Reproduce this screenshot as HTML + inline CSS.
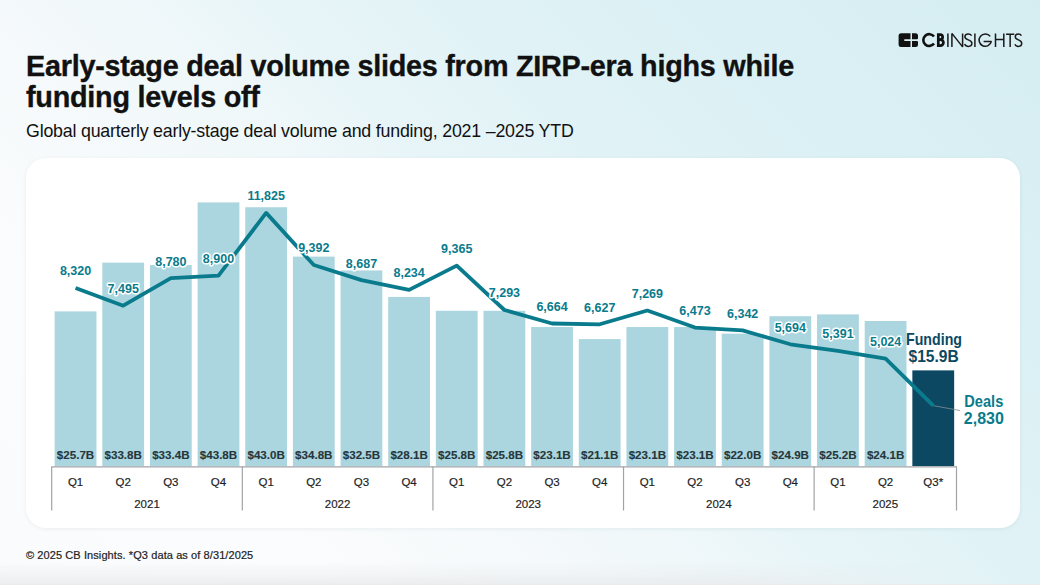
<!DOCTYPE html>
<html><head><meta charset="utf-8">
<style>
html,body{margin:0;padding:0;}
body{width:1040px;height:585px;overflow:hidden;position:relative;font-family:"Liberation Sans",sans-serif;
background:linear-gradient(45deg,#fafbfc 0%,#fbfcfd 20%,#f4f9fb 36%,#eef7f9 46%,#e8f5f8 52%,#e0f2f6 65%,#daf0f4 82%,#d5ecf1 100%);}
.bot{position:absolute;left:0;top:562px;width:1040px;height:23px;background:linear-gradient(180deg,rgba(232,234,236,0) 0%,rgba(232,234,236,0.35) 50%,rgba(232,234,236,0.85) 100%);-webkit-mask-image:linear-gradient(90deg,#000 0%,#000 70%,transparent 93%);}
.bline{position:absolute;left:0;top:584px;width:1040px;height:1px;background:#ebeced;}
.card{position:absolute;left:26px;top:158px;width:994px;height:369.5px;background:#fff;border-radius:20px;box-shadow:0 1px 4px rgba(0,50,70,0.07);}
h1{position:absolute;left:26px;top:50.5px;margin:0;font-size:28.8px;line-height:31.8px;letter-spacing:-0.26px;-webkit-text-stroke:0.35px #111;font-weight:700;color:#111;white-space:nowrap;}
.sub{position:absolute;left:26px;top:120.8px;margin:0;font-size:17.8px;line-height:20px;letter-spacing:-0.2px;color:#111;white-space:nowrap;}
.foot{position:absolute;left:26px;top:548.7px;font-size:11px;letter-spacing:0.09px;-webkit-text-stroke:0.2px #222;line-height:13px;color:#222;white-space:nowrap;}
svg{position:absolute;left:0;top:0;}
.fl{font-size:11.6px;font-weight:700;fill:#27363b;text-anchor:middle;stroke:#27363b;stroke-width:0.12;}
.ql{font-size:11.5px;fill:#1e1e1e;stroke:#1e1e1e;stroke-width:0.18;text-anchor:middle;}
.ax{stroke:#a0a4a6;stroke-width:1.2;fill:none;}
.dl{font-size:12.5px;font-weight:700;fill:#0a7b8c;text-anchor:middle;paint-order:stroke;stroke:#fff;stroke-width:3;stroke-linejoin:round;}
.big{font-size:16.2px;font-weight:700;text-anchor:middle;}
</style></head><body>
<div class="bot"></div><div class="bline"></div>
<div class="card"></div>
<h1>Early-stage deal volume slides from ZIRP-era highs while<br>funding levels off</h1>
<div class="sub">Global quarterly early-stage deal volume and funding, 2021 –2025 YTD</div>
<div class="foot">© 2025 CB Insights. *Q3 data as of 8/31/2025</div>
<svg width="1040" height="585" viewBox="0 0 1040 585">
<g>
<path fill="#111" d="M901.1 33.15 H910.5 V39.3 H904.3 V40.9 H910.5 V47 H901.1 Q898.6 47 898.6 44.5 V35.65 Q898.6 33.15 901.1 33.15 Z M912 33.15 H915.5 Q918 33.15 918 35.65 V38.3 Q918 39.3 917 39.3 H912 Z M912 40.9 H917 Q918 40.9 918 41.9 V44.5 Q918 47 915.5 47 H912 Z"/>
<g fill="none" stroke="#111" stroke-width="2.6">
<path d="M934 36.6 A5.9 5.9 0 1 0 934 43.5"/>
<path stroke-width="2.7" d="M938.3 33.3 V47 M938.3 34.65 H940.2 A2.45 2.45 0 0 1 940.2 39.55 H938.3 M938.3 39.55 H940.4 A3.05 3.05 0 0 1 940.4 45.65 H938.3"/>
</g>
<g fill="none" stroke="#1a1a1a" stroke-width="1.5" stroke-linejoin="bevel">
<path d="M947.9 33.4 V46.9 M951.9 46.9 V33.4 L962.6 46.9 V33.4"/>
<path d="M971.6 35.6 C970.8 34.3 969.6 33.9 968.2 33.9 C966.2 33.9 964.9 35.1 964.9 36.8 C964.9 40.7 971.9 39.1 971.9 43.3 C971.9 45.2 970.3 46.4 968.2 46.4 C966.5 46.4 965.2 45.6 964.5 44.2"/>
<path d="M974.9 33.4 V46.9"/>
<path d="M990.25 36.4 A6.2 6.2 0 1 0 991.37 41.4 H983.6"/>
<path d="M995.5 33.4 V46.9 M1003.8 33.4 V46.9 M995.5 39.4 H1003.8"/>
<path d="M1006 34.2 H1014.3 M1010.15 34.2 V46.9"/>
<path d="M1021.4 35.6 C1020.7 34.3 1019.6 33.9 1018.3 33.9 C1016.4 33.9 1015.3 35.1 1015.3 36.8 C1015.3 40.7 1021.7 39.1 1021.7 43.3 C1021.7 45.2 1020.2 46.4 1018.3 46.4 C1016.7 46.4 1015.5 45.6 1014.9 44.2"/>
</g>
</g>
<rect x="54.65" y="311.39" width="41.8" height="154.71" fill="#abd6df"/>
<rect x="102.30" y="262.62" width="41.8" height="203.48" fill="#abd6df"/>
<rect x="149.95" y="265.03" width="41.8" height="201.07" fill="#abd6df"/>
<rect x="197.60" y="202.42" width="41.8" height="263.68" fill="#abd6df"/>
<rect x="245.25" y="207.24" width="41.8" height="258.86" fill="#abd6df"/>
<rect x="292.90" y="256.60" width="41.8" height="209.50" fill="#abd6df"/>
<rect x="340.55" y="270.45" width="41.8" height="195.65" fill="#abd6df"/>
<rect x="388.20" y="296.94" width="41.8" height="169.16" fill="#abd6df"/>
<rect x="435.85" y="310.78" width="41.8" height="155.32" fill="#abd6df"/>
<rect x="483.50" y="310.78" width="41.8" height="155.32" fill="#abd6df"/>
<rect x="531.15" y="327.04" width="41.8" height="139.06" fill="#abd6df"/>
<rect x="578.80" y="339.08" width="41.8" height="127.02" fill="#abd6df"/>
<rect x="626.45" y="327.04" width="41.8" height="139.06" fill="#abd6df"/>
<rect x="674.10" y="327.04" width="41.8" height="139.06" fill="#abd6df"/>
<rect x="721.75" y="333.66" width="41.8" height="132.44" fill="#abd6df"/>
<rect x="769.40" y="316.20" width="41.8" height="149.90" fill="#abd6df"/>
<rect x="817.05" y="314.40" width="41.8" height="151.70" fill="#abd6df"/>
<rect x="864.70" y="321.02" width="41.8" height="145.08" fill="#abd6df"/>
<rect x="912.35" y="370.38" width="41.8" height="95.72" fill="#0d4862"/>
<text x="75.55" y="459.3" class="fl">$25.7B</text>
<text x="123.20" y="459.3" class="fl">$33.8B</text>
<text x="170.85" y="459.3" class="fl">$33.4B</text>
<text x="218.50" y="459.3" class="fl">$43.8B</text>
<text x="266.15" y="459.3" class="fl">$43.0B</text>
<text x="313.80" y="459.3" class="fl">$34.8B</text>
<text x="361.45" y="459.3" class="fl">$32.5B</text>
<text x="409.10" y="459.3" class="fl">$28.1B</text>
<text x="456.75" y="459.3" class="fl">$25.8B</text>
<text x="504.40" y="459.3" class="fl">$25.8B</text>
<text x="552.05" y="459.3" class="fl">$23.1B</text>
<text x="599.70" y="459.3" class="fl">$21.1B</text>
<text x="647.35" y="459.3" class="fl">$23.1B</text>
<text x="695.00" y="459.3" class="fl">$23.1B</text>
<text x="742.65" y="459.3" class="fl">$22.0B</text>
<text x="790.30" y="459.3" class="fl">$24.9B</text>
<text x="837.95" y="459.3" class="fl">$25.2B</text>
<text x="885.60" y="459.3" class="fl">$24.1B</text>
<path d="M51.7 466.8 H956.5 M51.7 466.3 V510.5 M956.5 466.3 V510.5" class="ax"/>
<path d="M242.32 466.8 V510.5" class="ax"/>
<path d="M432.93 466.8 V510.5" class="ax"/>
<path d="M623.52 466.8 V510.5" class="ax"/>
<path d="M814.12 466.8 V510.5" class="ax"/>
<text x="75.55" y="485.6" class="ql">Q1</text>
<text x="123.20" y="485.6" class="ql">Q2</text>
<text x="170.85" y="485.6" class="ql">Q3</text>
<text x="218.50" y="485.6" class="ql">Q4</text>
<text x="266.15" y="485.6" class="ql">Q1</text>
<text x="313.80" y="485.6" class="ql">Q2</text>
<text x="361.45" y="485.6" class="ql">Q3</text>
<text x="409.10" y="485.6" class="ql">Q4</text>
<text x="456.75" y="485.6" class="ql">Q1</text>
<text x="504.40" y="485.6" class="ql">Q2</text>
<text x="552.05" y="485.6" class="ql">Q3</text>
<text x="599.70" y="485.6" class="ql">Q4</text>
<text x="647.35" y="485.6" class="ql">Q1</text>
<text x="695.00" y="485.6" class="ql">Q2</text>
<text x="742.65" y="485.6" class="ql">Q3</text>
<text x="790.30" y="485.6" class="ql">Q4</text>
<text x="837.95" y="485.6" class="ql">Q1</text>
<text x="885.60" y="485.6" class="ql">Q2</text>
<text x="933.25" y="485.6" class="ql">Q3*</text>
<text x="147.03" y="507.8" class="ql">2021</text>
<text x="337.62" y="507.8" class="ql">2022</text>
<text x="528.23" y="507.8" class="ql">2023</text>
<text x="718.83" y="507.8" class="ql">2024</text>
<text x="885.31" y="507.8" class="ql">2025</text>
<path d="M933.25 405.65 L960 410.5" stroke="#7f9096" stroke-width="0.8" fill="none"/>
<path d="M75.55 288.00 L123.20 305.68 L170.85 278.14 L218.50 275.57 L266.15 212.89 L313.80 265.03 L361.45 280.14 L409.10 289.85 L456.75 265.61 L504.40 310.01 L552.05 323.49 L599.70 324.28 L647.35 310.53 L695.00 327.58 L742.65 330.39 L790.30 344.28 L837.95 350.77 L885.60 358.64 L933.25 405.65" fill="none" stroke="#0a7b8c" stroke-width="3.8" stroke-linejoin="round"/>
<text x="75.55" y="275.40" class="dl">8,320</text>
<text x="123.20" y="293.08" class="dl">7,495</text>
<text x="170.85" y="265.54" class="dl">8,780</text>
<text x="218.50" y="262.97" class="dl">8,900</text>
<text x="266.15" y="200.29" class="dl">11,825</text>
<text x="313.80" y="252.43" class="dl">9,392</text>
<text x="361.45" y="267.54" class="dl">8,687</text>
<text x="409.10" y="277.25" class="dl">8,234</text>
<text x="456.75" y="253.01" class="dl">9,365</text>
<text x="504.40" y="297.41" class="dl">7,293</text>
<text x="552.05" y="310.89" class="dl">6,664</text>
<text x="599.70" y="311.68" class="dl">6,627</text>
<text x="647.35" y="297.93" class="dl">7,269</text>
<text x="695.00" y="314.98" class="dl">6,473</text>
<text x="742.65" y="317.79" class="dl">6,342</text>
<text x="790.30" y="331.68" class="dl">5,694</text>
<text x="837.95" y="338.17" class="dl">5,391</text>
<text x="885.60" y="346.04" class="dl">5,024</text>
<text x="934" y="344.9" class="big" fill="#0d4862" textLength="56" lengthAdjust="spacingAndGlyphs">Funding</text>
<text x="933.6" y="361.9" class="big" fill="#0d4862" textLength="50.2" lengthAdjust="spacingAndGlyphs">$15.9B</text>
<text x="983.8" y="407.3" class="big" fill="#0a7b8c" textLength="39" lengthAdjust="spacingAndGlyphs">Deals</text>
<text x="983.8" y="424.2" class="big" fill="#0a7b8c" textLength="40" lengthAdjust="spacingAndGlyphs">2,830</text>
</svg>
</body></html>
